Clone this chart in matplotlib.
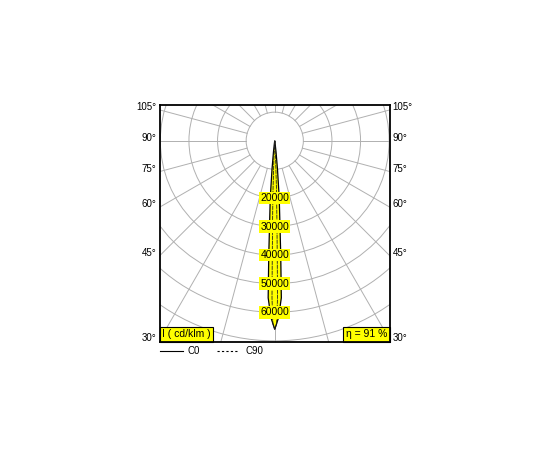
import numpy as np
import matplotlib
matplotlib.use("Agg")
import matplotlib.pyplot as plt
from matplotlib.patches import Circle, Polygon

plt.rcParams['font.family'] = ['Liberation Sans', 'DejaVu Sans']

# polar grid
ring_values = [10000, 20000, 30000, 40000, 50000, 60000, 70000, 80000, 90000]
ring_labels = [20000, 30000, 40000, 50000, 60000]
angle_labels = [105, 90, 75, 60, 45, 30]

# C0 curve (gamma in degrees, intensity in cd/klm)
c0_gamma = [0, 1.2, 2.4, 3.0, 3.5, 4.5, 5.5, 6.5, 8, 10]
c0_value = [66000, 62000, 55000, 40000, 30000, 20000, 10000, 4000, 800, 0]

# C90 curve
c90_gamma = [0, 0.6, 1.0, 1.2, 1.5, 2.0, 2.8, 4]
c90_value = [66000, 64000, 55000, 42000, 30000, 18000, 6000, 0]

eta = 91


def mirror(gamma, value):
    g = np.radians(np.concatenate([-np.array(gamma[::-1]), np.array(gamma[1:])]))
    v = np.concatenate([np.array(value[::-1]), np.array(value[1:])])
    return v * np.sin(g), -v * np.cos(g)


fig = plt.figure(figsize=(5.5, 4.5), dpi=100)
ax = fig.add_axes([159.5 / 550, 1 - 342 / 450, 230.5 / 550, 237 / 450])
XL = 40300
ax.set_xlim(-XL, XL)
ax.set_ylim(-70400, 12500)
ax.set_xticks([])
ax.set_yticks([])
for s in ax.spines.values():
    s.set_linewidth(1.3)
    s.set_color('black')
    s.set_zorder(10)

grid_col = '#b0b0b0'
for r in ring_values:
    ax.add_patch(Circle((0, 0), r, fill=False, ec=grid_col, lw=0.7, zorder=1))
for g in range(0, 360, 15):
    t = np.radians(g)
    ax.plot([10000 * np.sin(t), 100000 * np.sin(t)],
            [-10000 * np.cos(t), -100000 * np.cos(t)],
            color=grid_col, lw=0.7, zorder=1)

# beam
x0, y0 = mirror(c0_gamma, c0_value)
ax.add_patch(Polygon(np.column_stack([x0, y0]), closed=True, fc='#ffff00',
                     ec='black', lw=0.9, zorder=3))
x9, y9 = mirror(c90_gamma, c90_value)
ax.plot(x9, y9, color='#202020', lw=0.6, ls=(0, (5, 1)), zorder=4)

for r in ring_labels:
    ax.text(0, -r, str(r), ha='center', va='center', fontsize=7.5, zorder=5,
            bbox=dict(boxstyle='square,pad=0.12', fc='#ffff00', ec='none'))

# angle labels on both sides
for a in angle_labels:
    yv = -XL / np.tan(np.radians(a)) if a != 90 else 0
    ax.annotate(f'{a}°', (-XL, yv), xytext=(-2, 2), textcoords='offset points',
                ha='right', va='center', fontsize=7, annotation_clip=False)
    ax.annotate(f'{a}°', (XL, yv), xytext=(2, 2), textcoords='offset points',
                ha='left', va='center', fontsize=7, annotation_clip=False)

ax.text(0.012, 0.012, 'I ( cd/klm )', transform=ax.transAxes, ha='left',
        va='bottom', fontsize=7.5, zorder=6,
        bbox=dict(boxstyle='square,pad=0.25', fc='#ffff00', ec='black', lw=0.8))
ax.text(0.988, 0.012, f'η = {eta} %', transform=ax.transAxes, ha='right',
        va='bottom', fontsize=7.5, zorder=6,
        bbox=dict(boxstyle='square,pad=0.25', fc='#ffff00', ec='black', lw=0.8))

# legend under the chart
ly = 1 - 351 / 450
fig.add_artist(plt.Line2D([160 / 550, 183 / 550], [ly, ly], color='black', lw=0.8))
fig.text(187 / 550, ly, 'C0', ha='left', va='center', fontsize=7)
fig.add_artist(plt.Line2D([217 / 550, 238 / 550], [ly, ly], color='black', lw=0.8,
                          ls=(0, (2, 2))))
fig.text(245 / 550, ly, 'C90', ha='left', va='center', fontsize=7)

fig.savefig('out.png', dpi=100)
